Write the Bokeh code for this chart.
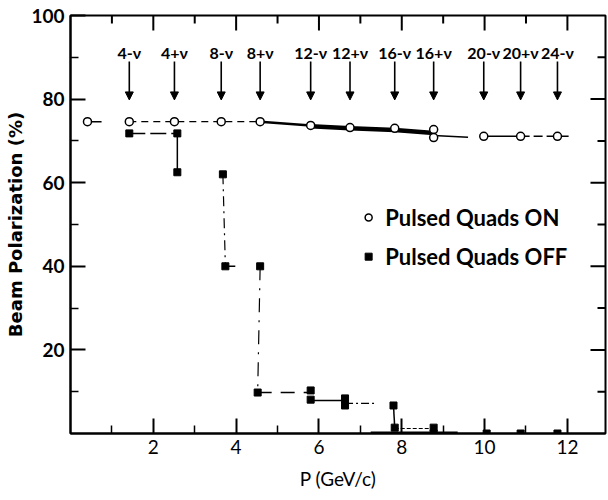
from bokeh.plotting import figure
from bokeh.models import (LinearAxis, FixedTicker, Range1d, ColumnDataSource,
                          Arrow, NormalHead)
from bokeh.core.properties import value
from bokeh.embed import file_html
from bokeh.resources import INLINE

# ---------------- data ----------------
# Pulsed quads ON (open circles)
ON_P = [0.41, 1.42, 2.51, 3.64, 4.58, 5.80, 6.75, 7.83, 8.77, 8.77, 9.98, 10.87, 11.76]
ON_POL = [74.6, 74.6, 74.6, 74.6, 74.6, 73.7, 73.2, 73.0, 72.7, 70.8, 71.1, 71.1, 71.1]

# Pulsed quads OFF (filled squares)
OFF_P = [1.42, 2.58, 2.58, 3.68, 3.74, 4.58, 4.52, 5.80, 5.80, 6.63, 6.63,
         7.80, 7.83, 8.77, 8.77, 10.05, 10.87, 11.76]
OFF_POL = [71.8, 71.8, 62.5, 62.0, 40.0, 40.0, 9.8, 10.3, 8.1, 8.4, 6.7,
           6.7, 1.4, 1.4, 0.0, 0.0, 0.0, 0.0]

# depolarizing resonances (arrows)
RES_LABELS = ["4-ν", "4+ν", "8-ν", "8+ν", "12-ν", "12+ν", "16-ν", "16+ν",
              "20-ν", "20+ν", "24-ν"]
RES_P = [1.42, 2.51, 3.64, 4.58, 5.80, 6.75, 7.83, 8.77, 9.98, 10.87, 11.76]

# tick values
X_MAJOR = [2, 4, 6, 8, 10, 12]
X_MINOR = [1, 3, 5, 7, 9, 11]
Y_MAJOR = [20, 40, 60, 80, 100]
Y_MINOR = [10, 30, 50, 70, 90]

# hand-drawn connecting traces (x list, y list, width, dash)
ON_TRACES = [
    ([ON_P[0], 0.75], [ON_POL[0], ON_POL[0]], 1.5, "solid"),
    (ON_P[1:5], ON_POL[1:5], 1.4, "7 5"),
    (ON_P[4:6], [ON_POL[4], ON_POL[5]], 2.5, "solid"),
    (ON_P[5:9], [73.5, 73.0, 72.6, 71.9], 4.5, "solid"),
    ([ON_P[8], 9.6], [71.3, 70.9], 1.5, "solid"),
    ([ON_P[10], ON_P[11]], [ON_POL[10], ON_POL[11]], 1.5, "solid"),
    ([ON_P[11], 12.1], [ON_POL[11], ON_POL[12]], 1.5, "9 4"),
]
OFF_TRACES = [
    (OFF_P[0:2], OFF_POL[0:2], 1.5, "16 5"),
    (OFF_P[1:3], OFF_POL[1:3], 1.5, "solid"),
    (OFF_P[3:5], OFF_POL[3:5], 1.2, "10 5 2 5"),
    ([OFF_P[4], 3.98], [OFF_POL[4], OFF_POL[4]], 1.5, "solid"),
    (OFF_P[5:7], OFF_POL[5:7], 1.2, "14 8 2 8"),
    ([OFF_P[6], OFF_P[7]], [OFF_POL[6], OFF_POL[6]], 1.4, "14 9"),
    ([OFF_P[8], OFF_P[9]], [7.9, 7.9], 1.4, "solid"),
    ([OFF_P[10], 7.35], [7.2, 7.2], 1.3, "8 3 2 3"),
    (OFF_P[11:13], OFF_POL[11:13], 1.5, "solid"),
    (OFF_P[12:14], [1.2, 1.2], 1.2, "4 2"),
    ([7.25, 9.35], [0.2, 0.2], 2.5, "solid"),
]

FONT = "Lato"
X0, X1, Y0, Y1 = 0, 12.92, 0, 100

W, H = 608, 500
BL, BR, BT, BB = 70, 3, 15, 67
px_x = (W - BL - BR) / (X1 - X0)      # pixels per data unit
px_y = (H - BT - BB) / (Y1 - Y0)
MAJ, MIN = 15, 8                       # tick lengths in pixels

p = figure(width=W, height=H,
           x_range=Range1d(X0, X1), y_range=Range1d(Y0, Y1),
           output_backend="svg", toolbar_location=None,
           min_border_left=BL, min_border_right=BR,
           min_border_top=BT, min_border_bottom=BB,
           x_axis_location=None, y_axis_location=None)
p.grid.visible = False
p.outline_line_color = "black"
p.outline_line_width = 2
p.background_fill_color = "white"
p.border_fill_color = "white"

xt = FixedTicker(ticks=X_MAJOR, minor_ticks=X_MINOR)
yt = FixedTicker(ticks=Y_MAJOR, minor_ticks=Y_MINOR)


def style_axis(ax):
    ax.axis_line_width = 2
    ax.axis_line_color = "black"
    ax.major_tick_line_width = 2
    ax.minor_tick_line_width = 1.5
    ax.major_tick_in = MAJ
    ax.major_tick_out = 0
    ax.minor_tick_in = MIN
    ax.minor_tick_out = 0


xb = LinearAxis(ticker=xt, axis_label="P (GeV/c)")
style_axis(xb)
xb.major_label_text_font = FONT
xb.major_label_text_font_size = "19px"
xb.major_label_text_color = "black"
xb.major_label_standoff = 6
xb.axis_label_text_font = FONT
xb.axis_label_text_font_size = "19px"
xb.axis_label_text_font_style = "normal"
xb.axis_label_text_color = "black"
xb.axis_label_standoff = 10
p.add_layout(xb, "below")

yl = LinearAxis(ticker=yt, axis_label="Beam Polarization (%)")
style_axis(yl)
yl.major_label_text_font = FONT
yl.major_label_text_font_size = "19px"
yl.major_label_text_font_style = "bold"
yl.major_label_text_color = "black"
yl.major_label_standoff = 6
yl.axis_label_text_font = "DejaVu Sans"
yl.axis_label_text_font_size = "18px"
yl.axis_label_text_font_style = "bold"
yl.axis_label_text_color = "black"
yl.axis_label_standoff = 2
p.add_layout(yl, "left")

# inward ticks on the top and right frame edges
tx = X_MAJOR + X_MINOR
tl = [MAJ] * len(X_MAJOR) + [MIN] * len(X_MINOR)
p.segment(x0=tx, y0=[Y1] * len(tx), x1=tx, y1=[Y1 - l / px_y for l in tl],
          line_color="black", line_width=2)
ty = Y_MAJOR[:-1] + Y_MINOR
tl = [MAJ] * (len(Y_MAJOR) - 1) + [MIN] * len(Y_MINOR)
p.segment(x0=[X1] * len(ty), y0=ty, x1=[X1 - l / px_x for l in tl], y1=ty,
          line_color="black", line_width=2)

# connecting traces
for xs, ys, w, d in ON_TRACES + OFF_TRACES:
    p.line(xs, ys, line_color="black", line_width=w, line_dash=d)

# data markers
p.scatter(OFF_P, OFF_POL, marker="square", size=7, fill_color="black",
          line_color="black")
p.scatter(ON_P, ON_POL, marker="circle", size=8, fill_color="white",
          line_color="black", line_width=1.5)

# resonance arrows and labels
n = len(RES_P)
arr_src = ColumnDataSource(dict(x=RES_P, y0=[89.0] * n, y1=[79.8] * n))
p.add_layout(Arrow(end=NormalHead(size=8, fill_color="black",
                                  line_color="black", line_width=1),
                   x_start="x", y_start="y0", x_end="x", y_end="y1",
                   line_width=1.6, line_color="black", source=arr_src))
p.text(x=RES_P, y=[91.2] * n, text=RES_LABELS, text_align="center",
       text_baseline="middle", text_font=value(FONT), text_font_size="16px",
       text_font_style="bold", text_color="black")

# legend (drawn by hand, as in the original)
p.scatter([7.2], [51.7], marker="circle", size=7, fill_color="white",
          line_color="black", line_width=1.5)
p.scatter([7.2], [42.3], marker="square", size=7, fill_color="black",
          line_color="black")
p.text(x=[7.6, 7.6], y=[51.7, 42.3],
       text=["Pulsed Quads ON", "Pulsed Quads OFF"],
       text_align="left", text_baseline="middle", text_font=value(FONT),
       text_font_size="22px", text_font_style="bold", text_color="black")

open("out.html", "w").write(file_html(p, INLINE))
